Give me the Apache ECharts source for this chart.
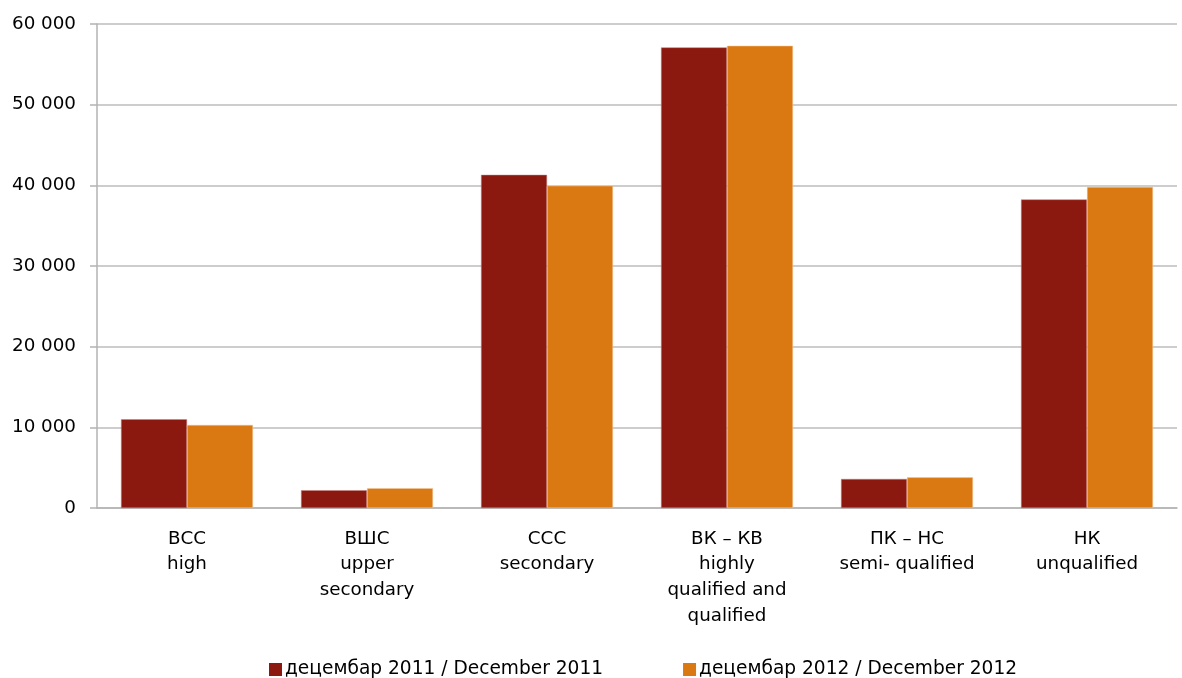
<!DOCTYPE html>
<html>
<head>
<meta charset="utf-8">
<script src="https://cdn.jsdelivr.net/npm/echarts@6/dist/echarts.min.js"></script>
<style>
html,body{margin:0;padding:0;background:#fff;}
#c{width:1182px;height:678px;}
</style>
</head>
<body>
<div id="c"></div>
<script>
const categories = ["ВСС\nhigh", "ВШС\nupper\nsecondary", "ССС\nsecondary", "ВК – КВ\nhighly\nqualified and\nqualified", "ПК – НС\nsemi- qualified", "НК\nunqualified"];
const seriesNames = ["децембар 2011 / December 2011", "децембар 2012 / December 2012"];
const dec2011 = [11000, 2200, 41300, 57100, 3600, 38250];
const dec2012 = [10300, 2450, 39950, 57300, 3800, 39800];
const yTicks = {min: 0, max: 60000, interval: 10000};

const font = "'DejaVu Sans', Verdana, sans-serif";
const chart = echarts.init(document.getElementById('c'), null, {renderer: 'canvas'});
chart.setOption({
  animation: false,
  textStyle: {fontFamily: font},
  grid: {left: 97, right: 5, top: 24, bottom: 170, containLabel: false},
  legend: {
    top: 655, left: 264, itemGap: 80,
    itemWidth: 13, itemHeight: 13, icon: 'rect',
    itemStyle: {borderWidth: 0},
    textStyle: {fontFamily: font, fontSize: 18.6, color: '#000', padding: [0,0,0,-2]},
    data: seriesNames
  },
  xAxis: {
    type: 'category',
    data: categories,
    axisLine: {lineStyle: {color: '#b3b3b3', width: 1.5}},
    axisTick: {show: false},
    axisLabel: {interval: 0, color: '#000', fontSize: 18.3, lineHeight: 25.7, margin: 18, fontFamily: font}
  },
  yAxis: {
    type: 'value',
    min: yTicks.min, max: yTicks.max, interval: yTicks.interval,
    axisLine: {show: true, lineStyle: {color: '#b3b3b3', width: 1.5}},
    axisTick: {show: true, length: 7, lineStyle: {color: '#b3b3b3', width: 1.5}},
    splitLine: {lineStyle: {color: '#bdbdbd', width: 1.5}},
    axisLabel: {
      color: '#000', fontSize: 18.3, margin: 21, fontFamily: font,
      formatter: v => String(v).replace(/\B(?=(\d{3})+(?!\d))/g, ' ')
    }
  },
  series: [
    {name: seriesNames[0], type: 'bar', data: dec2011, barGap: '0%', barCategoryGap: '26.7%',
     itemStyle: {color: '#8c1910', borderColor: '#c4837c', borderWidth: 0.5}},
    {name: seriesNames[1], type: 'bar', data: dec2012,
     itemStyle: {color: '#da7912', borderColor: '#f3c99c', borderWidth: 0.5}}
  ]
});
</script>
</body>
</html>
